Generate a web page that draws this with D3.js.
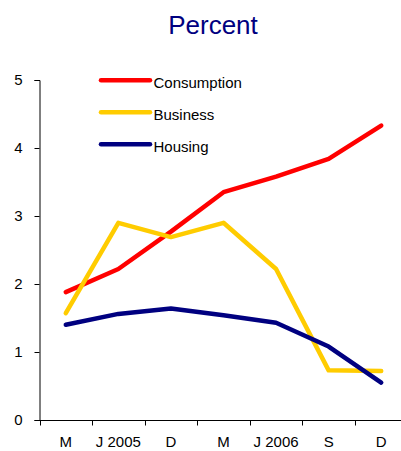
<!DOCTYPE html>
<head>
  <meta charset="utf-8">
  <title>Percent</title>
  <script src="https://d3js.org/d3.v7.min.js"></script>
  <style>
    body { margin: 0; background: #fff; }
    text { font-family: "Liberation Sans", Arial, sans-serif; }
  </style>
</head>
<body>
<svg width="401" height="451"></svg>
<script>

// Categories along the x axis (quarters, 2005-2006)
var categories = ["M", "J 2005", "D", "M ", "J 2006", "S", "D "];
var tickLabels = ["M", "J 2005", "D", "M", "J 2006", "S", "D"];

// Series values, in percent
var consumption = [1.88, 2.22, 2.77, 3.35, 3.58, 3.84, 4.33];
var business    = [1.57, 2.90, 2.69, 2.90, 2.22, 0.73, 0.72];
var housing     = [1.40, 1.56, 1.64, 1.54, 1.43, 1.08, 0.55];

var yTicks = [0, 1, 2, 3, 4, 5];

var series = [
  { name: "Consumption", values: consumption, color: "#ff0000" },
  { name: "Business",    values: business,    color: "#ffcc00" },
  { name: "Housing",     values: housing,     color: "#000080" }
];

var svg = d3.select("svg");

// x is a band scale so the points sit between the tick marks
var x = d3.scaleBand().domain(categories).range([39.5, 407.5]);
var y = d3.scaleLinear().domain([0, 5]).range([420, 80]);

// title
svg.append("text")
  .attr("x", 213).attr("y", 34)
  .attr("text-anchor", "middle")
  .attr("font-size", 26)
  .attr("fill", "#000080")
  .text("Percent");

// y axis
svg.append("g")
  .attr("transform", "translate(39.5,0)")
  .call(d3.axisLeft(y).tickValues(yTicks).tickSize(5).tickPadding(12).tickFormat(d3.format("d")));

// x axis -- tick marks on the band edges, labels at band centres
var xAxis = svg.append("g")
  .attr("transform", "translate(0,420.5)")
  .call(d3.axisBottom(x).tickSize(0).tickFormat(function(d, i) { return tickLabels[i]; }).tickPadding(16));

xAxis.selectAll(".tick line").remove();
xAxis.select(".domain").attr("d", "M39.5,0H401");
xAxis.selectAll(".edge")
  .data(categories)
  .enter().append("line")
  .attr("x1", function(d) { return Math.round(x(d)) + 0.5; })
  .attr("x2", function(d) { return Math.round(x(d)) + 0.5; })
  .attr("y1", 0).attr("y2", 5)
  .attr("stroke", "#000");

svg.selectAll(".domain").attr("stroke", "#000");
svg.selectAll(".tick line").attr("stroke", "#000");
svg.selectAll(".tick text").attr("font-size", 15).attr("fill", "#000")
  .attr("font-family", "Liberation Sans, Arial, sans-serif");

// lines
var line = d3.line()
  .x(function(d, i) { return x(categories[i]) + x.bandwidth() / 2; })
  .y(function(d) { return y(d); });

svg.selectAll(".series")
  .data(series)
  .enter().append("path")
  .attr("class", "series")
  .attr("d", function(s) { return line(s.values); })
  .attr("fill", "none")
  .attr("stroke", function(s) { return s.color; })
  .attr("stroke-width", 4.5)
  .attr("stroke-linejoin", "round")
  .attr("stroke-linecap", "round");

// legend
var legend = svg.selectAll(".legend")
  .data(series)
  .enter().append("g")
  .attr("transform", function(s, i) { return "translate(0," + (80.3 + i * 32) + ")"; });

legend.append("line")
  .attr("x1", 101).attr("x2", 150)
  .attr("stroke", function(s) { return s.color; })
  .attr("stroke-width", 4.5)
  .attr("stroke-linecap", "round");

legend.append("text")
  .attr("x", 153.5).attr("y", 8)
  .attr("font-size", 15)
  .attr("fill", "#000")
  .text(function(s) { return s.name; });

</script>
</body>
</html>
